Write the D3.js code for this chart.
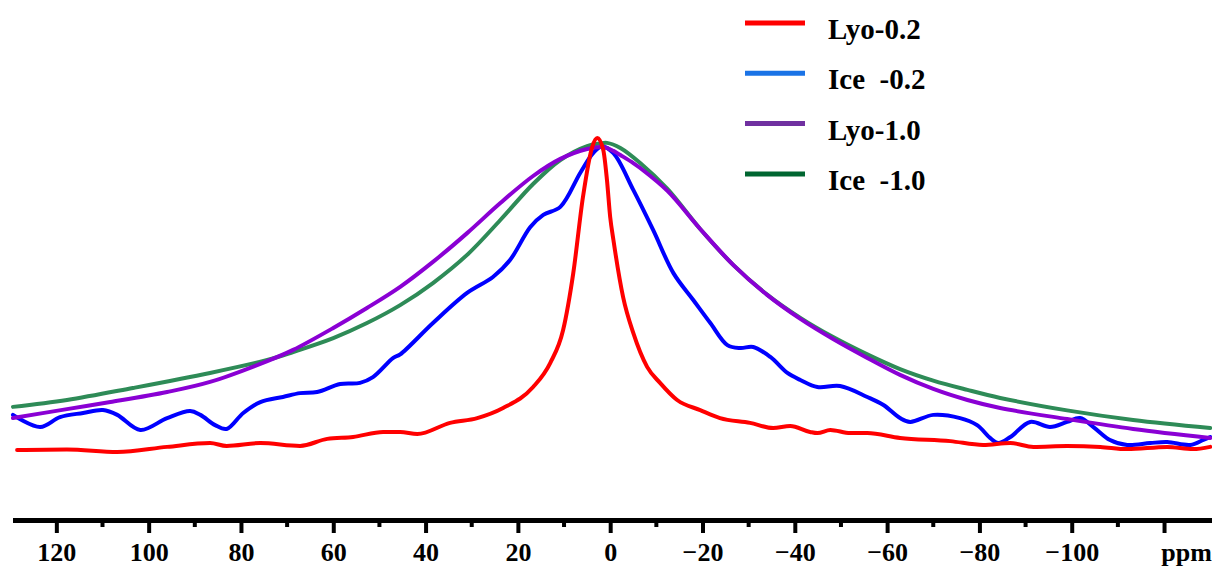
<!DOCTYPE html>
<html>
<head>
<meta charset="utf-8">
<script src="https://cdn.jsdelivr.net/npm/d3@7"></script>
<style>
  html, body { margin: 0; padding: 0; background: #fff; }
  svg { display: block; }
  text { font-family: "Liberation Serif", "Times New Roman", serif; font-weight: bold; fill: #000; }
</style>
</head>
<body>
<svg id="chart" width="1212" height="569"></svg>
<script>
// Chemical shift (ppm) and normalised intensity for each spectrum
const lyo02 = [
  [128.5, 3.1], [117.7, 3.3], [106.8, 2.5], [96.0, 4.1], [86.7, 5.3], [83.1, 4.4],
  [75.8, 5.3], [67.2, 4.4], [61.3, 6.6], [55.7, 7.2], [49.2, 8.75], [45.5, 8.75],
  [41.8, 8.1], [34.7, 11.6], [28.8, 13.1], [23.2, 16.25], [16.7, 22.8], [13.0, 30.3],
  [10.2, 40.6], [8.0, 58.4], [5.9, 82.2], [3.9, 97.8], [2.8, 100.6], [1.5, 96.9],
  [0.7, 87.5], [0.0, 75.9], [-0.7, 68.75], [-2.8, 50.9], [-5.0, 39.7], [-8.0, 29.1],
  [-10.8, 24.1], [-14.5, 18.75], [-19.5, 15.6], [-23.8, 13.1], [-30.3, 11.6],
  [-35.3, 10.0], [-39.0, 10.6], [-43.3, 8.75], [-44.9, 8.4], [-47.7, 9.4], [-52.0, 8.4],
  [-55.7, 8.4], [-62.8, 6.9], [-73.7, 5.9], [-80.8, 4.7], [-86.7, 5.3], [-91.7, 4.1],
  [-99.0, 4.4], [-106.2, 4.1], [-112.0, 3.4], [-120.7, 4.1], [-126.3, 3.4], [-130.0, 4.1]
];

const ice02 = [
  [129.4, 14.1], [123.5, 10.3], [119.2, 13.4], [114.2, 14.7], [109.9, 15.6], [106.8, 14.1],
  [101.8, 9.4], [96.0, 13.1], [91.0, 15.3], [88.8, 14.1], [85.6, 10.9], [83.1, 9.7],
  [79.5, 14.7], [75.8, 18.1], [70.9, 19.7], [67.2, 20.9], [63.5, 21.25], [58.5, 23.75],
  [54.2, 24.1], [51.4, 25.9], [47.0, 31.9], [45.5, 33.0], [38.4, 42.8], [31.0, 52.2],
  [25.4, 57.2], [21.7, 62.5], [17.3, 72.8], [14.5, 76.6], [10.8, 79.1], [6.5, 89.7],
  [3.7, 95.9], [1.8, 98.0], [-0.7, 95.9], [-5.0, 84.4], [-9.3, 71.9], [-13.7, 58.4],
  [-18.0, 50.0], [-21.7, 42.8], [-25.4, 35.9], [-28.2, 35.0], [-31.0, 35.3], [-34.7, 32.2],
  [-38.4, 27.2], [-41.2, 25.0], [-44.9, 22.8], [-49.8, 23.1], [-55.7, 19.7], [-59.2, 17.2],
  [-62.8, 13.1], [-65.0, 11.9], [-70.0, 14.1], [-75.8, 13.1], [-79.5, 10.9], [-82.3, 6.9],
  [-84.1, 5.3], [-86.7, 7.2], [-91.0, 11.9], [-95.3, 10.3], [-99.0, 11.9], [-101.8, 13.1],
  [-104.7, 10.3], [-108.3, 6.25], [-112.0, 4.7], [-117.0, 5.3], [-120.7, 5.6],
  [-125.7, 4.7], [-128.5, 6.25], [-130.0, 7.2]
];

const lyo10 = [
  [129.4, 13.1], [117.7, 15.9], [108.3, 18.1], [96.0, 21.25], [86.7, 24.4], [74.3, 30.9],
  [68.7, 34.4], [60.0, 41.25], [52.7, 47.5], [45.5, 54.1], [38.4, 61.9], [31.0, 70.9],
  [23.8, 80.3], [16.7, 88.75], [10.8, 94.1], [5.0, 97.2], [1.5, 97.8], [-0.7, 96.6],
  [-2.2, 95.3], [-5.0, 92.8], [-6.5, 91.25], [-12.4, 84.1], [-19.5, 72.2], [-26.7, 60.9],
  [-34.0, 51.6], [-41.2, 44.1], [-48.3, 37.8], [-55.7, 31.9], [-62.8, 26.6], [-70.0, 22.2],
  [-77.4, 18.75], [-84.5, 16.25], [-99.0, 12.8], [-113.3, 9.7], [-130.0, 6.9]
];

const ice10 = [
  [129.4, 16.6], [117.7, 18.75], [103.4, 22.5], [86.7, 27.2], [74.3, 31.25], [68.7, 33.75],
  [60.0, 38.1], [52.7, 42.8], [45.5, 48.4], [38.4, 55.3], [31.0, 64.1], [23.8, 75.0],
  [16.7, 86.25], [10.8, 93.75], [5.0, 98.1], [2.2, 98.9], [0.7, 99.1], [-2.2, 97.5],
  [-6.5, 92.8], [-12.4, 84.7], [-19.5, 72.2], [-26.7, 60.9], [-34.0, 51.7], [-41.2, 44.4],
  [-48.3, 38.4], [-55.7, 33.0], [-62.8, 28.4], [-70.0, 24.8], [-77.4, 21.9], [-84.5, 19.4],
  [-99.0, 15.5], [-113.3, 12.5], [-130.0, 10.0]
];

// Axis ticks
const majorTicks = [120, 100, 80, 60, 40, 20, 0, -20, -40, -60, -80, -100, -120];
const tickLabels = ["120", "100", "80", "60", "40", "20", "0", "\u221220", "\u221240", "\u221260", "\u221280", "\u2212100", "ppm"];
const minorTicks = [110, 90, 70, 50, 30, 10, -10, -30, -50, -70, -90, -110];

// Legend entries, drawn top to bottom
const legendNames = ["Lyo-0.2", "Ice  -0.2", "Lyo-1.0", "Ice  -1.0"];
const legendColors = ["#ff0000", "#1a73e6", "#7030a0", "#006631"];

const svg = d3.select("#chart");

const x = d3.scaleLinear().domain([129.5, -130.5]).range([12.5, 1212.5]);
const y = d3.scaleLinear().domain([0, 100]).range([460, 140]);

const smoothLine = d3.line()
  .x(d => x(d[0]))
  .y(d => y(d[1]))
  .curve(d3.curveCatmullRom.alpha(0.5));

const sharpLine = d3.line()
  .x(d => x(d[0]))
  .y(d => y(d[1]))
  .curve(d3.curveMonotoneX);

// Spectra (back to front)
const spectra = [
  { data: ice02, color: "#0000ff", gen: smoothLine },
  { data: ice10, color: "#2e8b57", gen: smoothLine },
  { data: lyo10, color: "#8a00d4", gen: smoothLine },
  { data: lyo02, color: "#ff0000", gen: sharpLine }
];

svg.append("g")
  .selectAll("path")
  .data(spectra)
  .join("path")
  .attr("d", d => d.gen(d.data))
  .attr("fill", "none")
  .attr("stroke", d => d.color)
  .attr("stroke-width", 4)
  .attr("stroke-linejoin", "round")
  .attr("stroke-linecap", "round");

// Bottom axis: major ticks with labels
const axisY = 520;
const axis = d3.axisBottom(x)
  .tickValues(majorTicks)
  .tickFormat((d, i) => tickLabels[i])
  .tickSize(13)
  .tickSizeOuter(0)
  .tickPadding(10);

const gAxis = svg.append("g")
  .attr("transform", `translate(0,${axisY})`)
  .call(axis);

gAxis.select(".domain")
  .attr("stroke", "#000")
  .attr("stroke-width", 5);
gAxis.selectAll(".tick line")
  .attr("stroke", "#000")
  .attr("stroke-width", 4);
gAxis.selectAll(".tick text")
  .attr("font-family", "Liberation Serif, Times New Roman, serif")
  .attr("font-weight", "bold")
  .attr("font-size", 26)
  .attr("fill", "#000");
gAxis.selectAll(".tick")
  .filter((d, i) => i === majorTicks.length - 1)
  .select("text")
  .attr("dx", 22);

// Minor ticks
svg.append("g")
  .attr("transform", `translate(0,${axisY})`)
  .selectAll("line")
  .data(minorTicks)
  .join("line")
  .attr("x1", d => x(d))
  .attr("x2", d => x(d))
  .attr("y1", 0)
  .attr("y2", 7)
  .attr("stroke", "#000")
  .attr("stroke-width", 4);

// Legend
const legend = svg.append("g").attr("transform", "translate(745,23)");
const rows = legend.selectAll("g")
  .data(legendNames)
  .join("g")
  .attr("transform", (d, i) => `translate(0,${i * 50.3})`);
rows.append("line")
  .attr("x1", 0).attr("x2", 60)
  .attr("y1", 0).attr("y2", 0)
  .attr("stroke", (d, i) => legendColors[i])
  .attr("stroke-width", 5);
rows.append("text")
  .attr("x", 83)
  .attr("y", 16)
  .attr("font-size", 29)
  .style("white-space", "pre")
  .text(d => d);
</script>
</body>
</html>
